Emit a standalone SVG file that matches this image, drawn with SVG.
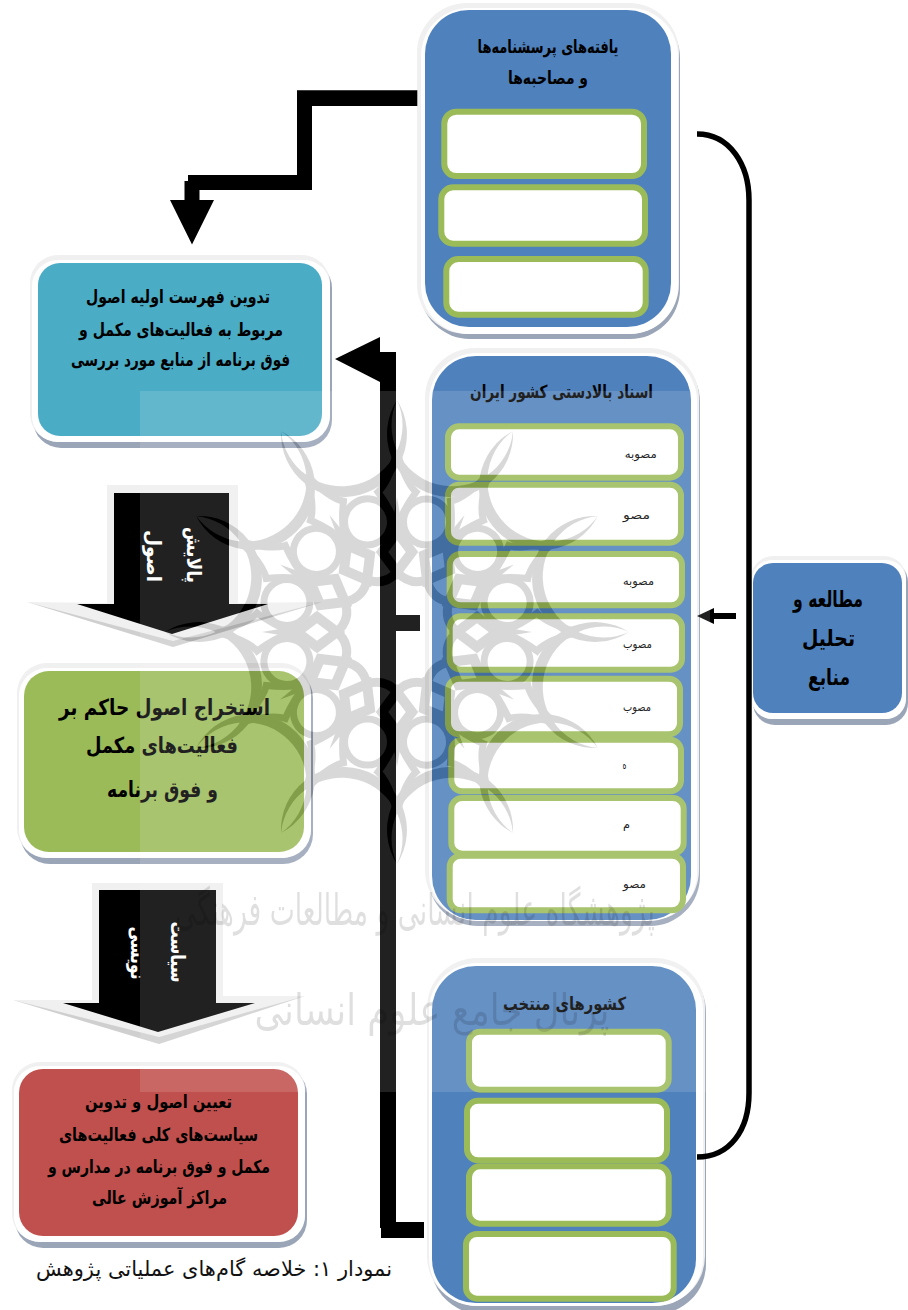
<svg xmlns="http://www.w3.org/2000/svg" xmlns:xlink="http://www.w3.org/1999/xlink" width="908" height="1310" viewBox="0 0 908 1310">
<style>
text{font-family:"DejaVu Sans",sans-serif;direction:rtl;text-anchor:middle}
.b{font-weight:bold;fill:#000}
.w{font-weight:bold;fill:#fff}
.s{fill:#000;font-size:12px}
.sh{fill:#9aa5b8}
.fr{fill:#f0f0f0}
.in{fill:#fff;stroke:#9bbb59;stroke-width:6}
.blue{fill:#4f81bd}
.k{fill:#000}
.cap{fill:#111;font-size:21px}
.wt{fill:#000;opacity:.12;font-size:44px}
</style>
<defs>
<g id="sec">
<path d="M0 -232A60.900 60.900 0 1 0 116 -200.900A63 63 0 1 1 0 -232Z" fill="#000"/>
<g fill="none" stroke="#000">
<circle cx="29.500" cy="-110.100" r="23" stroke-width="7"/>
<path d="M0 -181Q8 -150 19 -140Q6 -122 0 -105Q-6 -122 -19 -140Q-8 -150 0 -181Z" stroke-width="7"/>
<path d="M0 -105V-98" stroke-width="10"/>
<path d="M0 -100L15 -80L0 -60L-15 -80Z" stroke-width="10"/>
<path d="M0 -60Q12.900 -46 30 -52" stroke-width="9"/>
</g>
<polygon points="-6,-100 6,-100 0,-135" fill="#000"/>
</g>
<g id="ros" transform="translate(397 632)">
<use xlink:href="#sec"/><use xlink:href="#sec" transform="rotate(30)"/><use xlink:href="#sec" transform="rotate(60)"/><use xlink:href="#sec" transform="rotate(90)"/><use xlink:href="#sec" transform="rotate(120)"/><use xlink:href="#sec" transform="rotate(150)"/><use xlink:href="#sec" transform="rotate(180)"/><use xlink:href="#sec" transform="rotate(210)"/><use xlink:href="#sec" transform="rotate(240)"/><use xlink:href="#sec" transform="rotate(270)"/><use xlink:href="#sec" transform="rotate(300)"/><use xlink:href="#sec" transform="rotate(330)"/>
</g>
<mask id="hole" maskUnits="userSpaceOnUse" x="0" y="0" width="908" height="1310">
<rect width="908" height="1310" fill="#fff"/>
<use xlink:href="#ros"/>
</mask>
</defs>
<rect width="908" height="1310" fill="#fff"/>

<g id="node-findings">
<rect class="sh" x="420" y="8" width="260" height="331" rx="50"/>
<rect class="fr" x="417" y="3" width="262" height="331" rx="50"/>
<rect x="421" y="8" width="257" height="326" rx="48" fill="#fff"/>
<rect class="blue" x="425" y="10" width="246" height="317" rx="44"/>
<rect class="in" x="444.300" y="111.700" width="199.700" height="64.400" rx="12"/>
<rect class="in" x="441.300" y="187.300" width="203.700" height="56.400" rx="12"/>
<rect class="in" x="446.300" y="259" width="199.400" height="55.700" rx="12"/>
<text class="b" x="548" y="53" font-size="18" textLength="141" lengthAdjust="spacingAndGlyphs">یافته‌های پرسشنامه‌ها</text>
<text class="b" x="548" y="84" font-size="18" textLength="80" lengthAdjust="spacingAndGlyphs">و مصاحبه‌ها</text>
</g>

<g id="node-documents">
<rect class="sh" x="428" y="352" width="272" height="574" rx="50"/>
<rect class="fr" x="425" y="348" width="274" height="572" rx="50"/>
<rect x="429" y="353" width="268" height="568" rx="48" fill="#fff"/>
<rect class="blue" x="432" y="356" width="259" height="564" rx="44"/>
<text class="b" x="561.500" y="398" font-size="18" textLength="183" lengthAdjust="spacingAndGlyphs">اسناد بالادستی کشور ایران</text>
<rect class="in" x="448" y="426.300" width="233" height="51.400" rx="11"/>
<rect class="in" x="448" y="484.700" width="233" height="58" rx="11"/>
<rect class="in" x="449.700" y="554" width="232.300" height="51.300" rx="11"/>
<rect class="in" x="449.700" y="616.300" width="232.300" height="53.400" rx="11"/>
<rect class="in" x="448" y="678.700" width="232" height="55.600" rx="11"/>
<rect class="in" x="451.300" y="739.700" width="229.700" height="51.600" rx="11"/>
<rect class="in" x="451.300" y="798" width="232.400" height="55.700" rx="11"/>
<rect class="in" x="449.700" y="855.700" width="233.300" height="54.600" rx="11"/>
<text class="s" x="640.800" y="458" textLength="32" lengthAdjust="spacingAndGlyphs">مصوبه</text>
<text class="s" x="636.500" y="519" textLength="27" lengthAdjust="spacingAndGlyphs">مصو</text>
<text class="s" x="638.500" y="585" textLength="31" lengthAdjust="spacingAndGlyphs">مصوبه</text>
<text class="s" x="637.500" y="648" textLength="29" lengthAdjust="spacingAndGlyphs">مصوب</text>
<text class="s" x="637" y="711" textLength="28" lengthAdjust="spacingAndGlyphs">مصوب</text>
<text class="s" x="624.500" y="769" textLength="4" lengthAdjust="spacingAndGlyphs">ه</text>
<text class="s" x="626.500" y="828" textLength="7" lengthAdjust="spacingAndGlyphs">م</text>
<text class="s" x="634.500" y="888" textLength="23" lengthAdjust="spacingAndGlyphs">مصو</text>
</g>

<g id="node-countries">
<rect class="sh" x="431" y="962" width="275" height="352" rx="50"/>
<rect class="fr" x="427" y="958" width="278" height="348" rx="50"/>
<rect x="429" y="963" width="274" height="343" rx="48" fill="#fff"/>
<rect class="blue" x="432" y="966" width="264" height="337" rx="44"/>
<text class="b" x="564.500" y="1010" font-size="18" textLength="123" lengthAdjust="spacingAndGlyphs">کشورهای منتخب</text>
<rect class="in" x="469" y="1031.700" width="199.700" height="58" rx="11"/>
<rect class="in" x="467" y="1100.700" width="200" height="59.600" rx="11"/>
<rect class="in" x="469" y="1166.300" width="199.700" height="57.400" rx="11"/>
<rect class="in" x="466" y="1234" width="207.700" height="64.700" rx="11"/>
</g>

<g id="node-study">
<rect class="sh" x="753" y="560" width="155" height="165" rx="22"/>
<rect class="fr" x="751" y="556" width="155" height="163" rx="22"/>
<rect x="752" y="560" width="154" height="159" rx="20" fill="#fff"/>
<rect class="blue" x="753" y="563" width="149" height="150" rx="20"/>
<text class="b" x="828" y="607" font-size="23" textLength="70" lengthAdjust="spacingAndGlyphs">مطالعه و</text>
<text class="b" x="828.500" y="646" font-size="23" textLength="53" lengthAdjust="spacingAndGlyphs">تحلیل</text>
<text class="b" x="829" y="685" font-size="23" textLength="42" lengthAdjust="spacingAndGlyphs">منابع</text>
</g>

<g id="node-list">
<rect class="sh" x="33" y="260" width="299" height="188" rx="28"/>
<rect class="fr" x="30" y="255" width="300" height="187" rx="28"/>
<rect x="32" y="260" width="298" height="182" rx="26" fill="#fff"/>
<rect x="38" y="263" width="284" height="173" rx="22" fill="#4bacc6"/>
<text class="b" x="178" y="303" font-size="18" textLength="184" lengthAdjust="spacingAndGlyphs">تدوین فهرست اولیه اصول</text>
<text class="b" x="181" y="336" font-size="18" textLength="204" lengthAdjust="spacingAndGlyphs">مربوط به فعالیت‌های مکمل و</text>
<text class="b" x="180.500" y="366" font-size="18" textLength="219" lengthAdjust="spacingAndGlyphs">فوق برنامه از منابع مورد بررسی</text>
</g>

<g id="node-extract">
<rect class="sh" x="20" y="668" width="293" height="196" rx="30"/>
<rect class="fr" x="17" y="663" width="294" height="195" rx="30"/>
<rect x="19" y="668" width="292" height="190" rx="28" fill="#fff"/>
<rect x="24" y="671" width="280" height="181" rx="25" fill="#9bbb59"/>
<text class="b" x="164.500" y="715" font-size="22" textLength="211" lengthAdjust="spacingAndGlyphs">استخراج اصول حاکم بر</text>
<text class="b" x="162" y="753" font-size="22" textLength="152" lengthAdjust="spacingAndGlyphs">فعالیت‌های مکمل</text>
<text class="b" x="162.500" y="797" font-size="22" textLength="111" lengthAdjust="spacingAndGlyphs">و  فوق برنامه</text>
</g>

<g id="node-policy">
<rect class="sh" x="15" y="1066" width="292" height="182" rx="28"/>
<rect class="fr" x="12" y="1062" width="293" height="180" rx="28"/>
<rect x="14" y="1066" width="291" height="176" rx="26" fill="#fff"/>
<rect x="19" y="1069" width="279" height="167" rx="24" fill="#c0504d"/>
<text class="b" x="158.500" y="1108" font-size="18" textLength="147" lengthAdjust="spacingAndGlyphs">تعیین اصول و تدوین</text>
<text class="b" x="158.500" y="1141" font-size="18" textLength="199" lengthAdjust="spacingAndGlyphs">سیاست‌های کلی فعالیت‌های</text>
<text class="b" x="159" y="1173" font-size="18" textLength="222" lengthAdjust="spacingAndGlyphs">مکمل و فوق برنامه در مدارس و</text>
<text class="b" x="159.500" y="1204" font-size="18" textLength="135" lengthAdjust="spacingAndGlyphs">مراکز آموزش عالی</text>
</g>

<g id="connectors">
<polygon class="k" points="417.300,90.300 297,90.300 297,175 188,175 188,181 184.500,181 184.500,200 170,200 192,244.500 214,200 199.500,200 199.500,190 312,190 312,106 417.300,106"/>
<polygon class="k" points="335,359 380,337 380,1228 381,1228 381,1238 424,1238 424,1222 396,1222 396,631 420,631 420,615 396,615 396,352 380,352 380,382"/>
<path d="M697 134C730 134 749 165 749 200V1093C749 1130 730 1157 697 1157" fill="none" stroke="#000" stroke-width="5.500"/>
<polygon class="k" points="697,616 714,608 714,613 736,613 736,619 714,619 714,624"/>
<g id="refine">
<polygon class="fr" points="107,485 238,485 238,603 322,602 173,647 27,602 107,603"/>
<polygon points="27,602 173,647 322,602 173,641" fill="#b9b9b9" opacity=".6"/>
<polygon class="k" points="114,493 229,493 229,604 268,604 172,634 77,604 114,604"/>
<text class="w" transform="translate(187 555) rotate(90)" font-size="20" textLength="56" lengthAdjust="spacingAndGlyphs">پالایش</text>
<text class="w" transform="translate(147 556) rotate(90)" font-size="20" textLength="52" lengthAdjust="spacingAndGlyphs">اصول</text>
</g>
<g id="draft">
<polygon class="fr" points="92,883 223,883 223,996 305,996 159,1044 13,1000 92,1000"/>
<polygon points="13,1000 159,1044 305,996 159,1037" fill="#b9b9b9" opacity=".6"/>
<polygon class="k" points="99,890 216,890 216,1003 255,1003 158,1032 63,1003 99,1003"/>
<text class="w" transform="translate(171 952) rotate(90)" font-size="20" textLength="61" lengthAdjust="spacingAndGlyphs">سیاست</text>
<text class="w" transform="translate(131 953) rotate(90)" font-size="20" textLength="53" lengthAdjust="spacingAndGlyphs">نویسی</text>
</g>
</g>

<text id="caption" class="cap" x="214" y="1276" textLength="356" lengthAdjust="spacingAndGlyphs">نمودار ۱: خلاصه گام‌های عملیاتی پژوهش</text>

<g id="watermark">
<rect x="140" y="391" width="570" height="701" fill="#fff" opacity=".13" mask="url(#hole)"/>
<use xlink:href="#ros" opacity=".15"/>
<text class="wt" x="415" y="925" textLength="480" lengthAdjust="spacingAndGlyphs">پژوهشگاه علوم انسانی و مطالعات فرهنگی</text>
<text class="wt" x="432" y="1025" textLength="355" lengthAdjust="spacingAndGlyphs">پرتال جامع علوم انسانی</text>
</g>
</svg>
